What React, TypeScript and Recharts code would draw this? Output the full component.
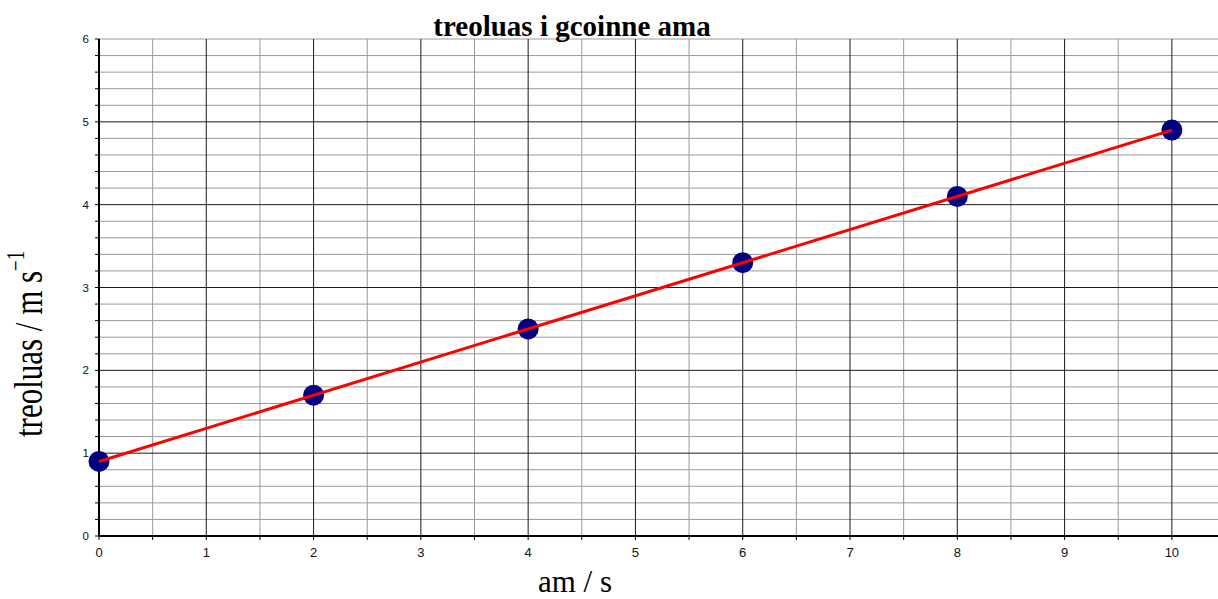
import React from 'react';
import { ComposedChart, XAxis, YAxis, Scatter, CartesianGrid } from 'recharts';

const timeValues = [0, 2, 4, 6, 8, 10];
const speedValues = [0.9, 1.7, 2.5, 3.3, 4.1, 4.9];
const fitTime = [0, 10];
const fitSpeed = [0.9, 4.9];

const xTicks = [0, 0.5, 1, 1.5, 2, 2.5, 3, 3.5, 4, 4.5, 5, 5.5, 6, 6.5, 7, 7.5, 8, 8.5, 9, 9.5, 10];
const yTicks = [0, 0.2, 0.4, 0.6, 0.8, 1, 1.2, 1.4, 1.6, 1.8, 2, 2.2, 2.4, 2.6, 2.8, 3, 3.2, 3.4, 3.6, 3.8, 4, 4.2, 4.4, 4.6, 4.8, 5, 5.2, 5.4, 5.6, 5.8, 6];
const xMajorGrid = [1, 2, 3, 4, 5, 6, 7, 8, 9, 10];
const xMinorGrid = [0.5, 1.5, 2.5, 3.5, 4.5, 5.5, 6.5, 7.5, 8.5, 9.5];
const yMajorGrid = [1, 2, 3, 4, 5];
const yMinorGrid = [0.2, 0.4, 0.6, 0.8, 1.2, 1.4, 1.6, 1.8, 2.2, 2.4, 2.6, 2.8, 3.2, 3.4, 3.6, 3.8, 4.2, 4.4, 4.6, 4.8, 5.2, 5.4, 5.6, 5.8, 6];

const titleText = 'treoluas i gcoinne ama';
const xLabelText = 'am / s';
const yLabelText = 'treoluas / m s';
const yLabelSup = '\u22121';

const points = timeValues.map((t, i) => ({ x: t, y: speedValues[i] }));
const fit = fitTime.map((t, i) => ({ x: t, y: fitSpeed[i] }));

const fmt = (v: number) => (Math.abs(v - Math.round(v)) < 1e-9 ? String(Math.round(v)) : '');

const Dot = (props: any) => {
  const { cx, cy } = props;
  if (cx == null || cy == null) return <g />;
  return <circle cx={cx} cy={cy} r={10.5} fill="#000080" />;
};

const NoShape = () => <g />;

export default function App() {
  return (
    <div style={{ position: 'absolute', left: 0, top: 0, width: 1218, height: 599, background: '#fff' }}>
      <ComposedChart width={1218} height={599} margin={{ top: 39, right: 0, bottom: 0, left: 0 }}>
        <CartesianGrid
          horizontalValues={yMinorGrid}
          verticalValues={xMinorGrid}
          stroke="#9a9a9a"
          strokeWidth={1}
        />
        <CartesianGrid
          horizontalValues={yMajorGrid}
          verticalValues={xMajorGrid}
          stroke="#1a1a1a"
          strokeWidth={1}
        />
        <XAxis
          type="number"
          dataKey="x"
          domain={[0, 10.43]}
          ticks={xTicks}
          interval={0}
          tickFormatter={fmt}
          height={63}
          tickSize={4}
          tickMargin={8}
          axisLine={{ stroke: '#000', strokeWidth: 2 }}
          tickLine={{ stroke: '#000' }}
          tick={{ fontSize: 13, fill: '#111', fontFamily: 'Liberation Sans, Arial, sans-serif' }}
        />
        <YAxis
          type="number"
          dataKey="y"
          domain={[0, 6]}
          ticks={yTicks}
          interval={0}
          tickFormatter={fmt}
          width={99}
          tickSize={4}
          tickMargin={6}
          axisLine={{ stroke: '#000', strokeWidth: 2 }}
          tickLine={{ stroke: '#000' }}
          tick={{ fontSize: 11.5, fill: '#111', fontFamily: 'Liberation Sans, Arial, sans-serif' }}
        />
        <Scatter data={points} fill="#000080" shape={Dot} isAnimationActive={false} />
        <Scatter
          data={fit}
          fill="#ff0000"
          line={{ stroke: '#ff0000', strokeWidth: 3 }}
          lineType="joint"
          shape={NoShape}
          isAnimationActive={false}
        />
      </ComposedChart>
      <svg
        width={1218}
        height={599}
        style={{ position: 'absolute', left: 0, top: 0, pointerEvents: 'none' }}
      >
        <text
          x={572}
          y={36}
          textAnchor="middle"
          fontFamily="Liberation Serif, Times New Roman, serif"
          fontWeight="bold"
          fontSize={29}
          fill="#000"
        >
          {titleText}
        </text>
        <text
          x={575}
          y={592}
          textAnchor="middle"
          fontFamily="Liberation Serif, Times New Roman, serif"
          fontSize={31}
          fill="#000"
        >
          {xLabelText}
        </text>
        <text
          transform="translate(42,437) rotate(-90) scale(1,1.3)"
          x={0}
          y={0}
          textAnchor="start"
          fontFamily="Liberation Serif, Times New Roman, serif"
          fontSize={31}
          fill="#000"
        >
          {yLabelText}
          <tspan dy={-14} fontSize={19}>{yLabelSup}</tspan>
        </text>
      </svg>
    </div>
  );
}
